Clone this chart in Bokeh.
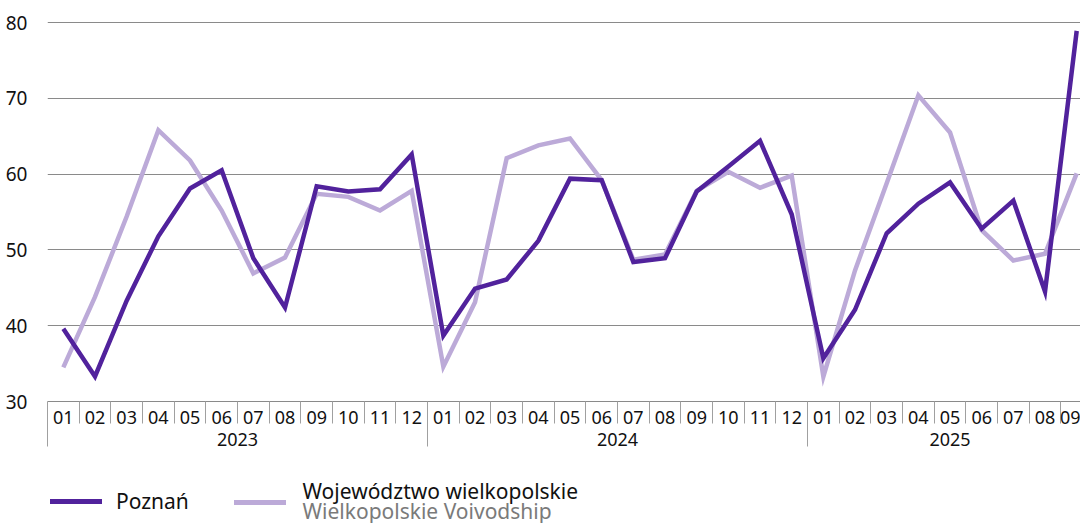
from bokeh.plotting import figure
from bokeh.layouts import column
from bokeh.models import Range1d, FixedTicker, LinearAxis, Legend, LegendItem, Label
from bokeh.embed import file_html
from bokeh.resources import INLINE

# ---------------- data ----------------
years = ["2023", "2024", "2025"]
months_per_year = [12, 12, 9]
month_labels = ["01", "02", "03", "04", "05", "06", "07", "08", "09", "10", "11", "12",
                "01", "02", "03", "04", "05", "06", "07", "08", "09", "10", "11", "12",
                "01", "02", "03", "04", "05", "06", "07", "08", "09"]
poznan = [39.6, 33.3, 43.3, 51.8, 58.1, 60.5, 48.9, 42.4, 58.4, 57.7, 58.0, 62.6,
          38.7, 44.9, 46.1, 51.2, 59.4, 59.2, 48.4, 48.9, 57.7, 61.0, 64.4, 54.7,
          35.7, 42.1, 52.2, 56.1, 58.9, 52.8, 56.5, 44.5, 78.9]
wielkopolskie = [34.5, 43.8, 54.4, 65.8, 61.8, 55.2, 46.9, 49.0, 57.4, 57.0, 55.2, 57.8,
                 34.6, 43.1, 62.1, 63.8, 64.7, 59.2, 48.7, 49.4, 57.8, 60.3, 58.2, 59.8,
                 33.3, 47.3, 58.8, 70.4, 65.5, 52.6, 48.6, 49.5, 60.1]
y_ticks = [30, 40, 50, 60, 70, 80]
label_poznan = "Poznań"
label_wlkp_pl = "Województwo wielkopolskie"
label_wlkp_en = "Wielkopolskie Voivodship"

# ---------------- styles ----------------
DARK = "#51229c"
LIGHT = "#bcaad8"
GRID = "#8a8a8a"
SEP = "#a0a0a0"
FONT = "Noto Sans"
TXT = "#111111"

x = list(range(len(month_labels)))

p = figure(width=1080, height=460, output_backend="svg", toolbar_location=None,
           x_range=Range1d(-0.5, 32.12), y_range=Range1d(30, 81.06),
           x_axis_type=None,
           min_border_left=47, min_border_right=0, min_border_top=14, min_border_bottom=59)
p.outline_line_color = None

# y axis
p.yaxis.ticker = FixedTicker(ticks=y_ticks)
p.yaxis.axis_line_color = None
p.yaxis.major_tick_line_color = None
p.yaxis.minor_tick_line_color = None
p.yaxis.major_label_text_font = FONT
p.yaxis.major_label_text_font_size = "19px"
p.yaxis.major_label_text_color = TXT
p.yaxis.major_label_standoff = 14
p.ygrid.ticker = FixedTicker(ticks=y_ticks)
p.ygrid.grid_line_color = GRID
p.ygrid.grid_line_width = 1

# month axis
bounds = [i - 0.5 for i in range(len(x) + 1)]
ax_m = LinearAxis(ticker=FixedTicker(ticks=x, minor_ticks=bounds),
                  major_label_overrides={i: lab for i, lab in enumerate(month_labels)},
                  major_tick_line_color=None,
                  minor_tick_in=0, minor_tick_out=22, minor_tick_line_color=SEP,
                  axis_line_color=GRID,
                  major_label_text_font=FONT, major_label_text_font_size="18px",
                  major_label_text_color=TXT, major_label_standoff=-13)
p.add_layout(ax_m, "below")

# year axis
starts = [sum(months_per_year[:k]) for k in range(len(years))]
centers = [s + n / 2 - 0.5 for s, n in zip(starts, months_per_year)]
ybounds = [s - 0.5 for s in starts]
ax_y = LinearAxis(ticker=FixedTicker(ticks=centers, minor_ticks=ybounds),
                  major_label_overrides={c: yv for c, yv in zip(centers, years)},
                  major_tick_line_color=None,
                  minor_tick_in=6, minor_tick_out=20, minor_tick_line_color=SEP,
                  axis_line_color=None,
                  major_label_text_font=FONT, major_label_text_font_size="18px",
                  major_label_text_color=TXT, major_label_standoff=-14)
p.add_layout(ax_y, "below")

# lines
p.line(x, wielkopolskie, line_color=LIGHT, line_width=4.5, line_join="miter")
p.line(x, poznan, line_color=DARK, line_width=4.5, line_join="miter")

# ---------------- legend strip ----------------
q = figure(width=1080, height=63, output_backend="svg", toolbar_location=None,
           x_range=Range1d(0, 1), y_range=Range1d(0, 1),
           x_axis_type=None, y_axis_type=None,
           min_border_left=47, min_border_right=0, min_border_top=0, min_border_bottom=0)
q.outline_line_color = None
q.xgrid.visible = False
q.ygrid.visible = False
nan = float("nan")
s1 = q.line([nan], [nan], line_color=DARK, line_width=5, line_cap="round")
s2 = q.line([nan], [nan], line_color=LIGHT, line_width=5, line_cap="round")

common = dict(glyph_width=52, glyph_height=26, label_standoff=14,
              padding=0, margin=0, border_line_color=None, background_fill_alpha=0,
              label_text_font=FONT, label_text_font_size="21px", label_text_color=TXT)
leg1 = Legend(items=[LegendItem(label=label_poznan, renderers=[s1])],
              location=(3, 8), **common)
leg2 = Legend(items=[LegendItem(label=" ", renderers=[s2])],
              location=(187, 8), **common)
q.add_layout(leg1)
q.add_layout(leg2)
q.add_layout(Label(x=255, y=33, x_units="screen", y_units="screen", text=label_wlkp_pl,
                   text_font=FONT, text_font_size="21px", text_color=TXT,
                   text_baseline="middle"))
q.add_layout(Label(x=255, y=13, x_units="screen", y_units="screen", text=label_wlkp_en,
                   text_font=FONT, text_font_size="21px", text_color="#7a7a7a",
                   text_baseline="middle"))

open("out.html", "w").write(file_html(column(p, q, spacing=0), INLINE))
